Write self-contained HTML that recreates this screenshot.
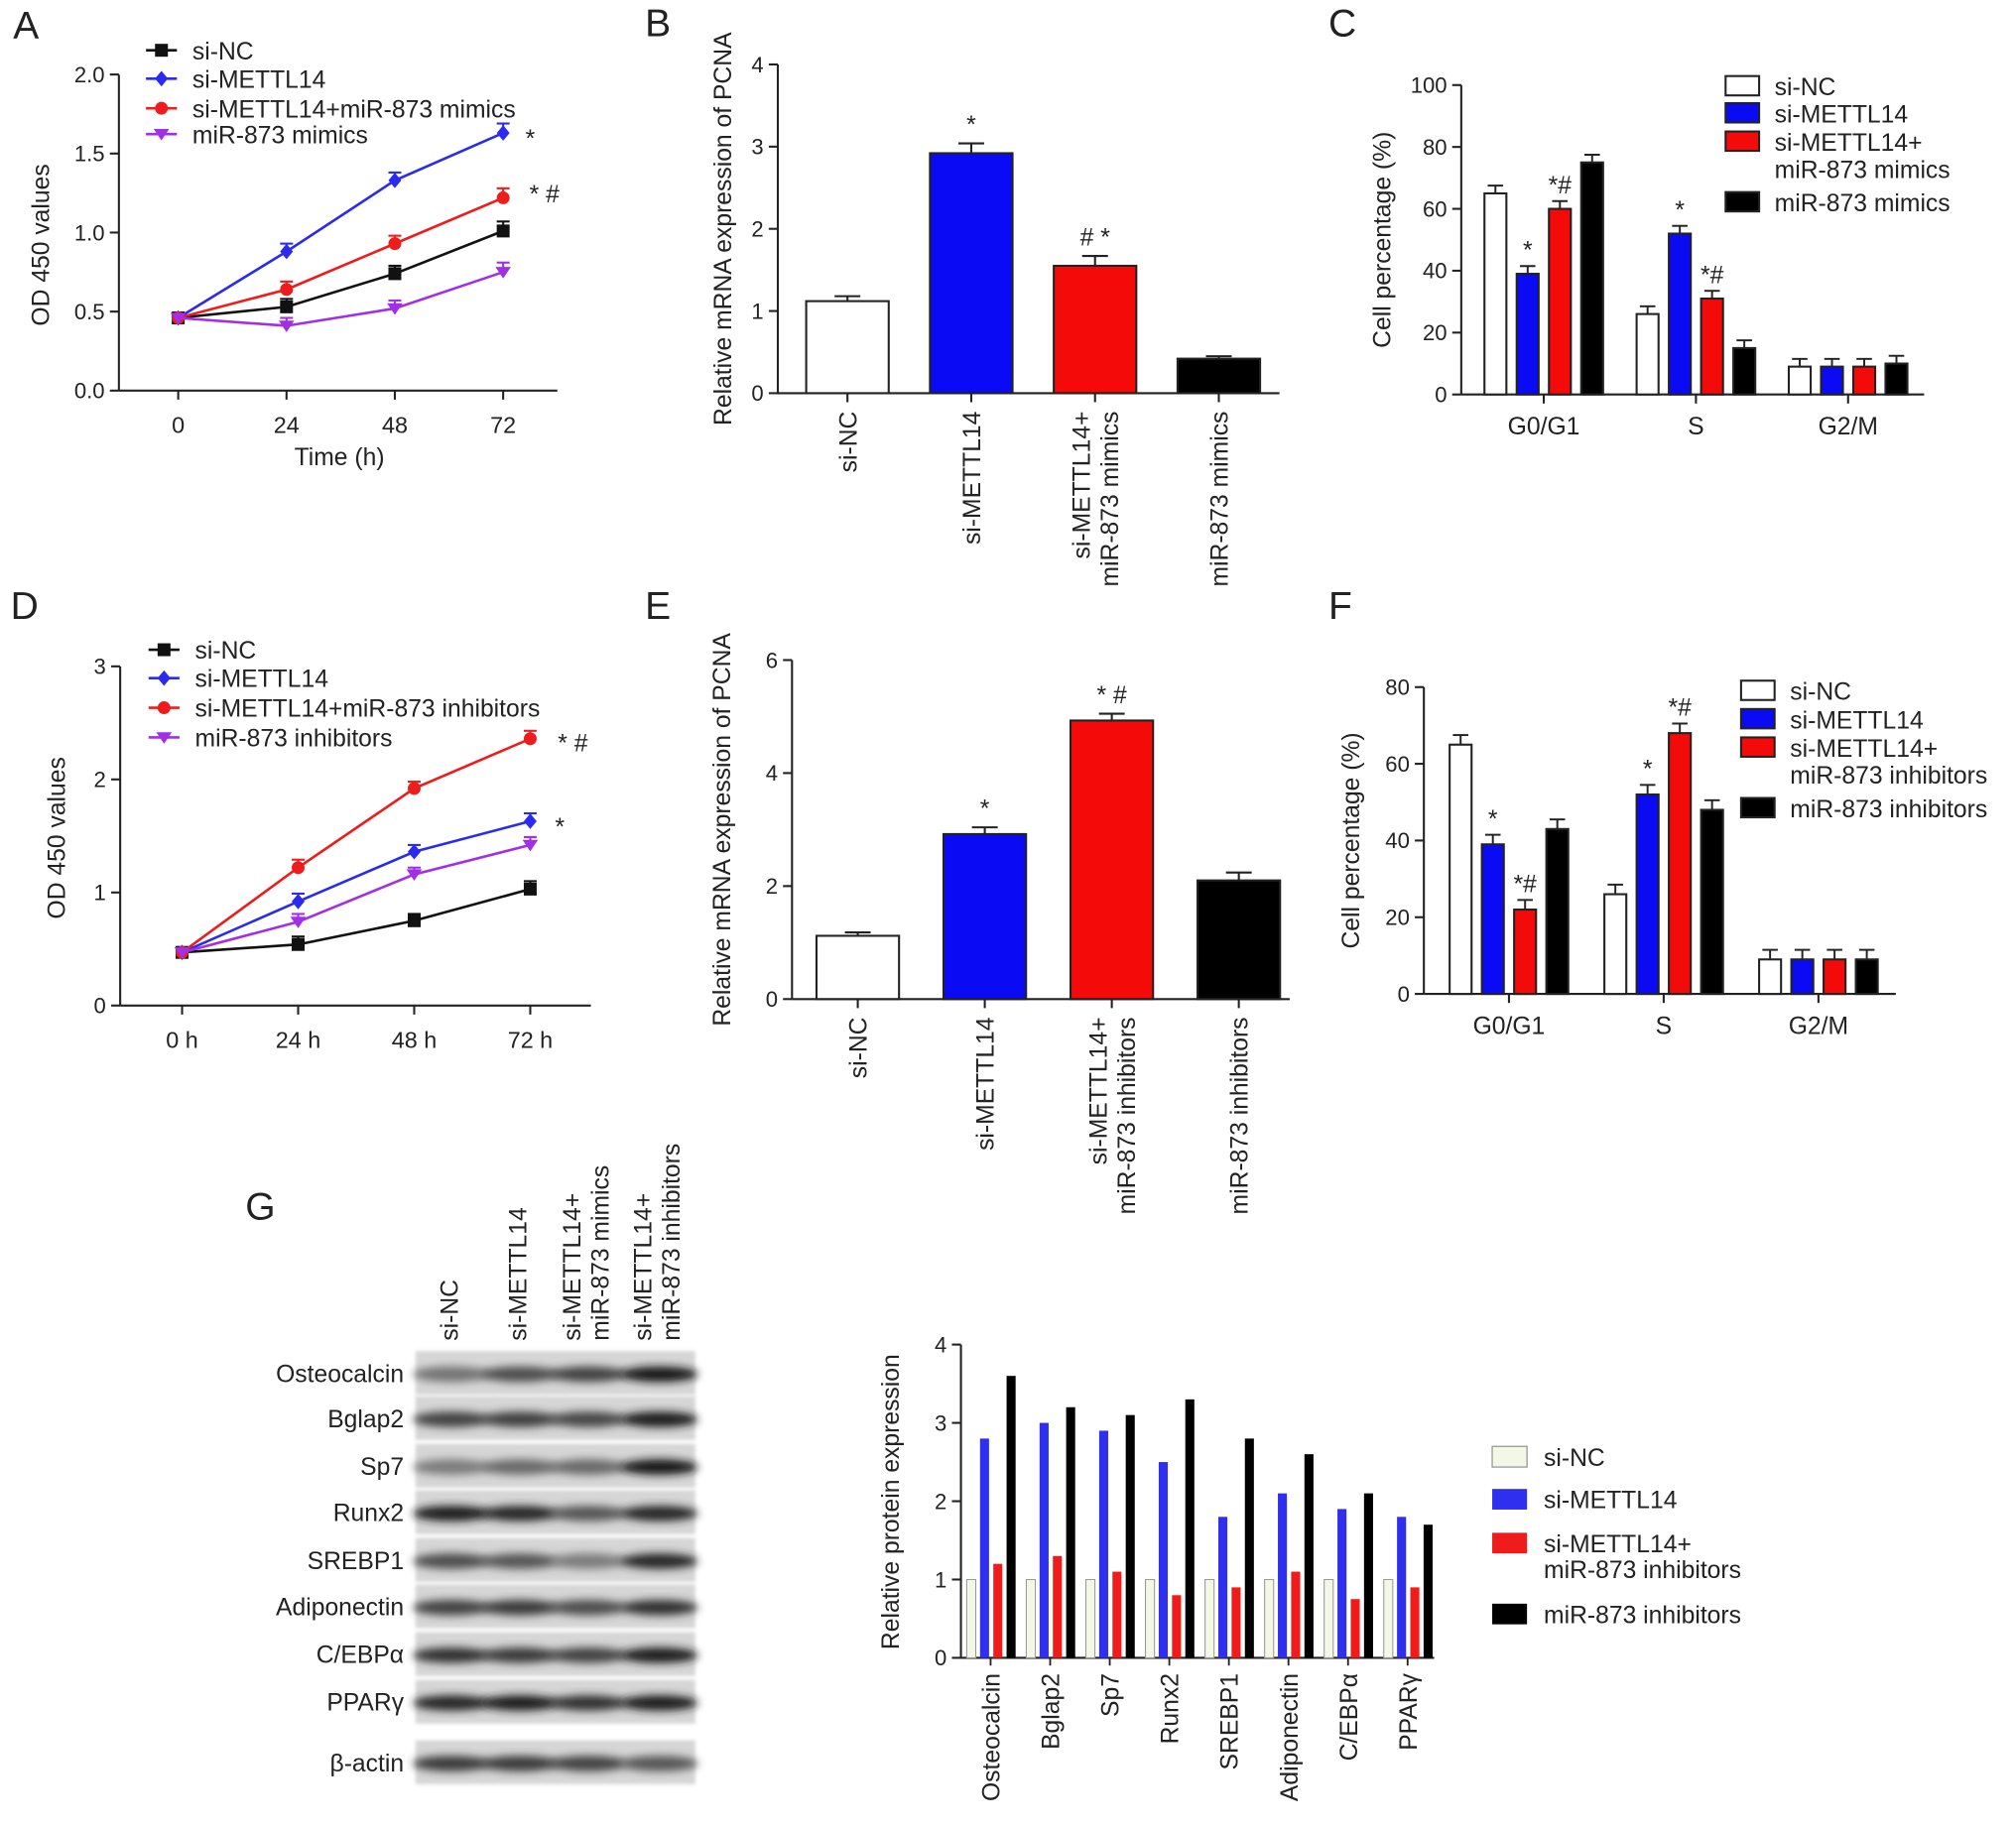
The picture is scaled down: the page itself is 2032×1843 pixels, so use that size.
<!DOCTYPE html>
<html><head><meta charset="utf-8"><style>
html,body{margin:0;padding:0;background:#fff;}
svg{display:block;}
text{font-family:"Liberation Sans",Arial,sans-serif;fill:#222;}
</style></head><body>
<svg id="fig" width="2032" height="1843" viewBox="0 0 1563 1418" xmlns="http://www.w3.org/2000/svg">
<defs>
<filter id="blur" x="-20%" y="-50%" width="140%" height="200%"><feGaussianBlur stdDeviation="3.2"/></filter>
<filter id="blur2"><feGaussianBlur stdDeviation="1.5"/></filter>
</defs>
</svg>
<script>
// ---------- DATA ----------
const timeLabelsA = ['0','24','48','72'];
const timeLabelsD = ['0 h','24 h','48 h','72 h'];
const A_siNC = [0.46,0.53,0.74,1.01];
const A_siM = [0.46,0.88,1.33,1.63];
const A_siMmim = [0.46,0.64,0.93,1.22];
const A_mim = [0.46,0.41,0.52,0.75];
const A_err = [0.03,0.05,0.05,0.06];
const D_siNC = [0.47,0.54,0.75,1.03];
const D_siM = [0.47,0.92,1.36,1.63];
const D_siMinh = [0.47,1.22,1.92,2.36];
const D_inh = [0.47,0.74,1.16,1.42];
const D_err = [0.04,0.07,0.06,0.07];
const B_cats = ['si-NC','si-METTL14','si-METTL14+|miR-873 mimics','miR-873 mimics'];
const B_vals = [1.12,2.92,1.55,0.42];
const B_err = [0.06,0.12,0.12,0.03];
const E_cats = ['si-NC','si-METTL14','si-METTL14+|miR-873 inhibitors','miR-873 inhibitors'];
const E_vals = [1.12,2.92,4.93,2.1];
const E_err = [0.06,0.12,0.12,0.14];
const phases = ['G0/G1','S','G2/M'];
const C_siNC = [65,26,9];
const C_siM = [39,52,9];
const C_siMmim = [60,31,9];
const C_mim = [75,15,10];
const C_err = [2.5,2.5,2.5];
const F_siNC = [65,26,9];
const F_siM = [39,52,9];
const F_siMinh = [22,68,9];
const F_inh = [43,48,9];
const F_err = [2.5,2.5,2.5];
const G_cats = ['Osteocalcin','Bglap2','Sp7','Runx2','SREBP1','Adiponectin','C/EBPα','PPARγ'];
const G_siNC = [1,1,1,1,1,1,1,1];
const G_siM = [2.8,3.0,2.9,2.5,1.8,2.1,1.9,1.8];
const G_siMinh = [1.2,1.3,1.1,0.8,0.9,1.1,0.75,0.9];
const G_inh = [3.6,3.2,3.1,3.3,2.8,2.6,2.1,1.7];
const blotRows = ['Osteocalcin','Bglap2','Sp7','Runx2','SREBP1','Adiponectin','C/EBPα','PPARγ','β-actin'];
const blotIntensity = [[0.45,0.65,0.7,0.95],[0.7,0.72,0.68,0.9],[0.4,0.5,0.5,0.95],[0.9,0.85,0.6,0.85],[0.65,0.6,0.4,0.85],[0.7,0.75,0.65,0.8],[0.8,0.75,0.7,0.9],[0.85,0.9,0.8,0.9],[0.75,0.75,0.7,0.6]];

// ---------- HELPERS ----------
const svg = document.getElementById('fig');
const NS = 'http://www.w3.org/2000/svg';
function mk(tag, attrs, parent){
  const e = document.createElementNS(NS, tag);
  for (const k in attrs) e.setAttribute(k, attrs[k]);
  (parent||svg).appendChild(e);
  return e;
}
function txt(s, x, y, size, anchor, parent, rot){
  const t = mk('text', {x:x, y:y, 'font-size':size, 'text-anchor':anchor||'start'}, parent);
  if (rot) t.setAttribute('transform', `rotate(${rot} ${x} ${y})`);
  t.textContent = s;
  return t;
}
function group(name){
  const g = mk('g', {});
  
  
  return g;
}
function yAxis(g, x, y0, y1, ticks, scale, fmt, size){
  mk('line',{x1:x,y1:y0,x2:x,y2:y1,stroke:'#222','stroke-width':1.6},g);
  ticks.forEach(v=>{
    const y = scale(v);
    mk('line',{x1:x-7,y1:y,x2:x,y2:y,stroke:'#222','stroke-width':1.6},g);
    const t = txt(fmt(v), x-11, y+6, size||17, 'end', g);
    
    
  });
}
function marker(g, shape, x, y, color){
  if (shape==='sq') mk('rect',{x:x-5,y:y-5,width:10,height:10,fill:color},g);
  else if (shape==='di') mk('polygon',{points:`${x},${y-6} ${x+5},${y} ${x},${y+6} ${x-5},${y}`,fill:color},g);
  else if (shape==='ci') mk('circle',{cx:x,cy:y,r:5,fill:color},g);
  else mk('polygon',{points:`${x-6},${y-4} ${x+6},${y-4} ${x},${y+5}`,fill:color},g);
}

// ---------- LINE PANELS ----------
function linePanel(name, opts){
  const g = group(name);
  const sy = v => opts.y0 - (v - 0) * opts.py;
  const sx = i => opts.xs[0] + i * (opts.xs[1]-opts.xs[0]);
  yAxis(g, opts.ax, opts.y0+0, opts.ytop, opts.ticks, sy, opts.fmt);
  mk('line',{x1:opts.ax,y1:opts.y0,x2:opts.axEnd,y2:opts.y0,stroke:'#222','stroke-width':1.6},g);
  opts.xlabels.forEach((l,i)=>{
    mk('line',{x1:sx(i),y1:opts.y0,x2:sx(i),y2:opts.y0+7,stroke:'#222','stroke-width':1.6},g);
    const t = txt(l, sx(i), opts.y0+33, 18, 'middle', g);
    
    
  });
  opts.series.forEach(s=>{
    const sg = mk('g',{},g);
    
    
    const pts = s.vals.map((v,i)=>`${sx(i)},${sy(v)}`).join(' ');
    mk('polyline',{points:pts,fill:'none',stroke:s.color,'stroke-width':2},sg);
    s.vals.forEach((v,i)=>{
      if (i>0){
        const e = opts.err[i]*opts.py;
        mk('line',{x1:sx(i),y1:sy(v)-e,x2:sx(i),y2:sy(v),stroke:s.color,'stroke-width':1.6},sg);
        mk('line',{x1:sx(i)-5,y1:sy(v)-e,x2:sx(i)+5,y2:sy(v)-e,stroke:s.color,'stroke-width':1.6},sg);
      }
      marker(sg, s.shape, sx(i), sy(v), s.color);
    });
  });
  return {g, sx, sy};
}
function lineLegend(g, x, ys, items){
  items.forEach((it,i)=>{
    const lg = mk('g',{},g);
    
    
    mk('line',{x1:x,y1:ys[i],x2:x+24,y2:ys[i],stroke:it.color,'stroke-width':2},lg);
    marker(lg, it.shape, x+12, ys[i], it.color);
    txt(it.label, x+36, ys[i]+7, 19, 'start', lg);
  });
}

// Panel A
const pA = linePanel('panel-a-line-chart',{ax:92,y0:303,ytop:58,py:122.6,ticks:[0,0.5,1,1.5,2],fmt:v=>v.toFixed(1),axEnd:432,xs:[138,222],xlabels:timeLabelsA,err:A_err,
  series:[{name:'series-si-nc',vals:A_siNC,color:'#111',shape:'sq'},{name:'series-si-mettl14',vals:A_siM,color:'#2b2bf0',shape:'di'},{name:'series-si-mettl14-mimics',vals:A_siMmim,color:'#ee1c1c',shape:'ci'},{name:'series-mir873-mimics',vals:A_mim,color:'#a22ee6',shape:'tr'}]});
txt('Time (h)', 263, 361, 19, 'middle', pA.g);
txt('OD 450 values', 38, 190, 19, 'middle', pA.g, -90);
lineLegend(pA.g, 113, [39,61,84,104], [{label:'si-NC',color:'#111',shape:'sq'},{label:'si-METTL14',color:'#2b2bf0',shape:'di'},{label:'si-METTL14+miR-873 mimics',color:'#ee1c1c',shape:'ci'},{label:'miR-873 mimics',color:'#a22ee6',shape:'tr'}]);
txt('*', 411, 114, 19, 'middle', pA.g);
txt('* #', 422, 157, 19, 'middle', pA.g);
txt('A', 10, 30, 30, 'start', pA.g);

// Panel D
const pD = linePanel('panel-d-line-chart',{ax:93,y0:780,ytop:517,py:87.7,ticks:[0,1,2,3],fmt:v=>String(v),axEnd:458,xs:[141,231],xlabels:timeLabelsD,err:D_err,
  series:[{name:'series-si-nc',vals:D_siNC,color:'#111',shape:'sq'},{name:'series-si-mettl14',vals:D_siM,color:'#2b2bf0',shape:'di'},{name:'series-si-mettl14-inhibitors',vals:D_siMinh,color:'#ee1c1c',shape:'ci'},{name:'series-mir873-inhibitors',vals:D_inh,color:'#a22ee6',shape:'tr'}]});
txt('OD 450 values', 50, 650, 19, 'middle', pD.g, -90);
lineLegend(pD.g, 115, [504,526,549,572], [{label:'si-NC',color:'#111',shape:'sq'},{label:'si-METTL14',color:'#2b2bf0',shape:'di'},{label:'si-METTL14+miR-873 inhibitors',color:'#ee1c1c',shape:'ci'},{label:'miR-873 inhibitors',color:'#a22ee6',shape:'tr'}]);
txt('* #', 444, 583, 19, 'middle', pD.g);
txt('*', 434, 648, 19, 'middle', pD.g);
txt('D', 8, 480, 30, 'start', pD.g);

// ---------- SIMPLE BAR PANELS ----------
const barColors = ['#ffffff','#0a0af5','#f50a0a','#000000'];
function barPanel(name, o){
  const g = group(name);
  const sy = v => o.y0 - v*o.py;
  const sx = i => o.c0 + i*o.step;
  yAxis(g, o.ax, o.y0, o.ytop, o.ticks, sy, v=>String(v));
  mk('line',{x1:o.ax,y1:o.y0,x2:o.axEnd,y2:o.y0,stroke:'#222','stroke-width':1.6},g);
  o.vals.forEach((v,i)=>{
    const bg = mk('g',{},g);
    
    
    const x = sx(i), w = 64, e = o.err[i]*o.py;
    mk('line',{x1:x,y1:sy(v)-e,x2:x,y2:sy(v),stroke:'#222','stroke-width':1.6},bg);
    mk('line',{x1:x-10,y1:sy(v)-e,x2:x+10,y2:sy(v)-e,stroke:'#222','stroke-width':1.6},bg);
    mk('rect',{x:x-w/2,y:sy(v),width:w,height:v*o.py,fill:barColors[i],stroke:'#222','stroke-width':1.6},bg);
    mk('line',{x1:x,y1:o.y0,x2:x,y2:o.y0+7,stroke:'#222','stroke-width':1.6},g);
    const parts = o.cats[i].split('|');
    parts.forEach((p,k)=>{
      const xx = x + 7 + (k - (parts.length-1)/2)*22 - (parts.length>1?0:0);
      const t = txt(p, xx, o.y0+14, 19, 'end', g, -90);
      
      
    });
    if (o.stars[i]) txt(o.stars[i], x, sy(v)-e-8, 19, 'middle', g);
  });
  txt(o.ytitle, o.tx, (o.y0+o.ytop)/2, 19, 'middle', g, -90);
  return g;
}
const gB = barPanel('panel-b-bar-chart',{ax:603,y0:305,ytop:50,py:63.75,ticks:[0,1,2,3,4],c0:657,step:96,axEnd:992,vals:B_vals,err:B_err,cats:B_cats,stars:['','*','# *',''],ytitle:'Relative mRNA expression of PCNA',tx:567});
txt('B', 500, 28, 30, 'start', gB);
const gE = barPanel('panel-e-bar-chart',{ax:614,y0:775,ytop:512,py:43.83,ticks:[0,2,4,6],c0:665,step:98.5,axEnd:1000,vals:E_vals,err:E_err,cats:E_cats,stars:['','*','* #',''],ytitle:'Relative mRNA expression of PCNA',tx:566});
txt('E', 500, 480, 30, 'start', gE);

// ---------- GROUPED (cell cycle) PANELS ----------
function groupedPanel(name, o){
  const g = group(name);
  const sy = v => o.y0 - v*o.py;
  yAxis(g, o.ax, o.y0, o.ytop, o.ticks, sy, v=>String(v));
  mk('line',{x1:o.ax,y1:o.y0,x2:o.axEnd,y2:o.y0,stroke:'#222','stroke-width':1.6},g);
  phases.forEach((p,pi)=>{
    const cx = o.g0 + pi*o.gstep;
    mk('line',{x1:cx,y1:o.y0,x2:cx,y2:o.y0+7,stroke:'#222','stroke-width':1.6},g);
    const t = txt(p, cx, o.y0+31, 19, 'middle', g);
    
    
    o.series.forEach((s,si)=>{
      const x = cx + (si-1.5)*25, v = s[pi], e = o.err[pi]*o.py, w = 17;
      const bg = mk('g',{},g);
      
      
      mk('line',{x1:x,y1:sy(v)-e,x2:x,y2:sy(v),stroke:'#222','stroke-width':1.5},bg);
      mk('line',{x1:x-6,y1:sy(v)-e,x2:x+6,y2:sy(v)-e,stroke:'#222','stroke-width':1.5},bg);
      mk('rect',{x:x-w/2,y:sy(v),width:w,height:v*o.py,fill:barColors[si],stroke:'#222','stroke-width':1.6},bg);
      const st = o.stars[pi] && o.stars[pi][si];
      if (st) txt(st, x, sy(v)-e-6, 19, 'middle', bg);
    });
  });
  txt('Cell percentage (%)', o.tx, (o.y0+o.ytop)/2, 19, 'middle', g, -90);
  // legend
  o.legend.forEach((l,i)=>{
    const lg = mk('g',{},g);
    
    
    mk('rect',{x:o.lx,y:o.ly[i]-8,width:26,height:15,fill:barColors[i],stroke:'#222','stroke-width':1.6},lg);
    l.split('|').forEach((line,k)=>txt(line, o.lx+38, o.ly[i]+7+k*21, 19, 'start', lg));
  });
  return g;
}
const gC = groupedPanel('panel-c-cell-cycle-chart',{ax:1133,y0:306,ytop:66,py:2.4,ticks:[0,20,40,60,80,100],axEnd:1492,g0:1197,gstep:118,series:[C_siNC,C_siM,C_siMmim,C_mim],err:C_err,
  stars:[['','*','*#',''],['','*','*#',''],null],tx:1078,lx:1338,ly:[67,88,110,157],legend:['si-NC','si-METTL14','si-METTL14+|miR-873 mimics','miR-873 mimics']});
txt('C', 1030, 28, 30, 'start', gC);
const gF = groupedPanel('panel-f-cell-cycle-chart',{ax:1104,y0:771,ytop:533,py:2.975,ticks:[0,20,40,60,80],axEnd:1470,g0:1170,gstep:120,series:[F_siNC,F_siM,F_siMinh,F_inh],err:F_err,
  stars:[['','*','*#',''],['','*','*#',''],null],tx:1054,lx:1350,ly:[536,558,580,627],legend:['si-NC','si-METTL14','si-METTL14+|miR-873 inhibitors','miR-873 inhibitors']});
txt('F', 1030, 480, 30, 'start', gF);

// ---------- PANEL G: BLOT ----------
const gG = group('panel-g-western-blot');
txt('G', 190, 946, 30, 'start', gG);
const laneX = [348,401,454,509];
const laneHeads = [['si-NC'],['si-METTL14'],['si-METTL14+','miR-873 mimics'],['si-METTL14+','miR-873 inhibitors']];
laneHeads.forEach((h,i)=>{
  h.forEach((line,k)=>{
    const x = laneX[i] + 7 + (k-(h.length-1)/2)*22;
    const t = txt(line, x, 1040, 19, 'start', gG, -90);
    
    
  });
});
const rowY = [1065,1100,1137,1173,1210,1246,1283,1320,1367];
blotRows.forEach((r,ri)=>{
  const y = rowY[ri];
  const rg = mk('g',{},gG);
  
  
  mk('rect',{x:322,y:y-17,width:217,height:34,fill:'#d6d6d6',filter:'url(#blur2)'},rg);
  blotIntensity[ri].forEach((v,li)=>{
    const c = Math.round(200 - v*190);
    mk('ellipse',{cx:laneX[li]+2,cy:y+1,rx:30,ry:6,fill:`rgb(${c},${c},${c})`,filter:'url(#blur)'},rg);
  });
  txt(r, 313, y+7, 19, 'end', gG);
});

// ---------- PANEL G: BAR CHART ----------
const gH = group('panel-g-protein-bar-chart');
const hy0 = 1286, hpy = 60.75;
const hsy = v => hy0 - v*hpy;
yAxis(gH, 745, hy0, 1043, [0,1,2,3,4], hsy, v=>String(v));
mk('line',{x1:745,y1:hy0,x2:1112,y2:hy0,stroke:'#222','stroke-width':1.6},gH);
const gColors = ['#f2f7e6','#2f2ff0','#f01c1c','#000'];
[G_siNC,G_siM,G_siMinh,G_inh].forEach((s,si)=>{
  s.forEach((v,ci)=>{
    const x = 753 + ci*46.2 + si*10.3;
    const b = mk('rect',{x:x-3.5,y:hsy(v),width:7,height:v*hpy,fill:gColors[si],stroke:si===0?'#999':'none','stroke-width':0.8},gH);
    
    
  });
});
G_cats.forEach((c,ci)=>{
  const x = 768 + ci*46.2;
  mk('line',{x1:x,y1:hy0,x2:x,y2:hy0+6,stroke:'#222','stroke-width':1.4},gH);
  const t = txt(c, x+7, hy0+12, 19, 'end', gH, -90);
  
  
});
txt('Relative protein expression', 697, 1165, 19, 'middle', gH, -90);
const gl = [['si-NC'],['si-METTL14'],['si-METTL14+','miR-873 inhibitors'],['miR-873 inhibitors']];
const gly = [1130,1163,1197,1252];
gl.forEach((l,i)=>{
  const lg = mk('g',{},gH);
  
  
  mk('rect',{x:1157,y:gly[i]-8,width:27,height:16,fill:gColors[i],stroke:i===0?'#999':'none'},lg);
  l.forEach((line,k)=>txt(line, 1197, gly[i]+7+k*20, 19, 'start', lg));
});
</script>
</body></html>
